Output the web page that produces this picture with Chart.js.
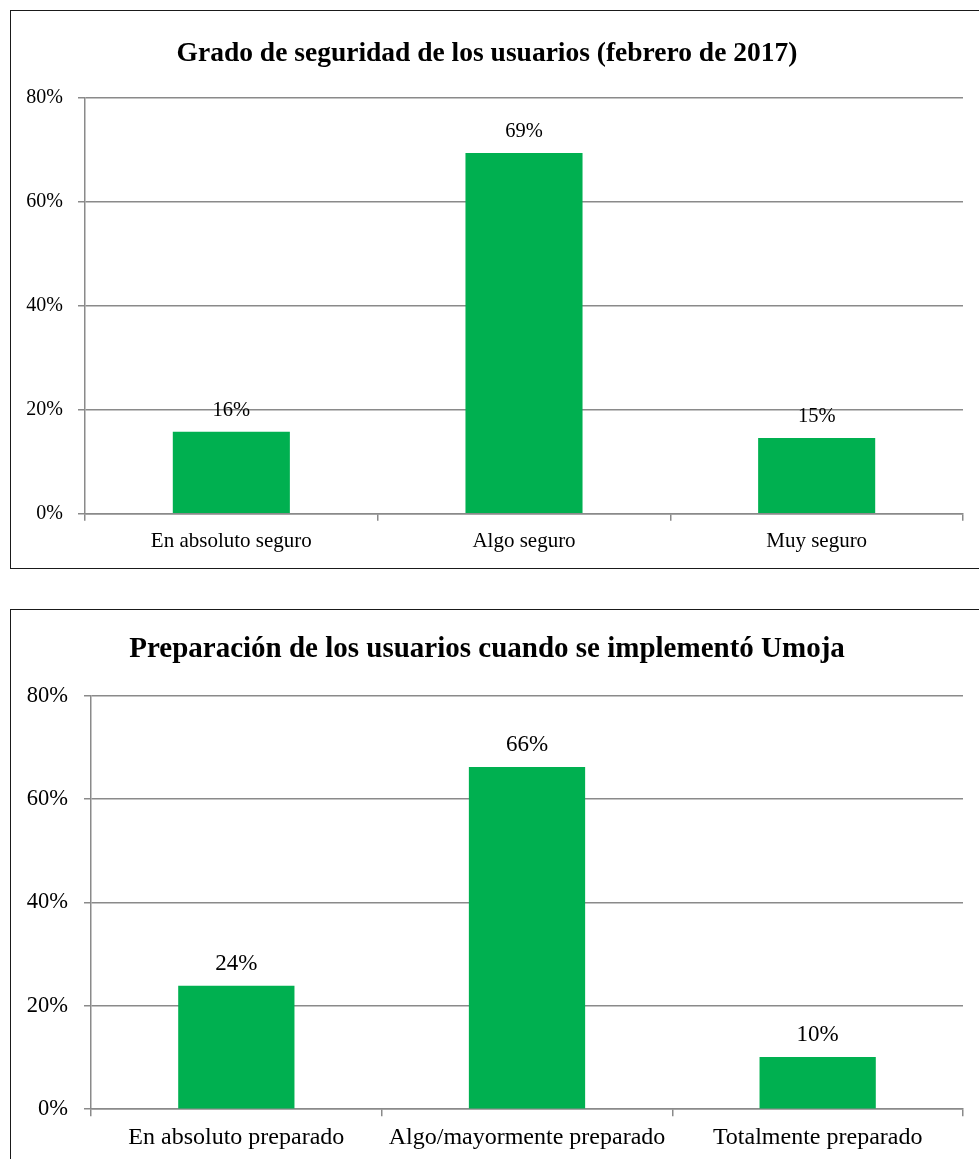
<!DOCTYPE html>
<html lang="es">
<head>
<meta charset="utf-8">
<script src="https://cdn.jsdelivr.net/npm/chart.js@4"></script>
<style>
  html, body { margin: 0; padding: 0; background: #fff; overflow: hidden; width: 979px; height: 1159px; }
  .marco { position: absolute; left: 10px; width: 990px; border: 1px solid #1a1a1a; border-right: none; }
  #marco1 { top: 10px; height: 557px; }
  #marco2 { top: 609px; height: 600px; }
  canvas { position: absolute; left: 0; top: 0; }
</style>
</head>
<body>
<div class="marco" id="marco1"><canvas id="grafica1" width="968" height="556"></canvas></div>
<div class="marco" id="marco2"><canvas id="grafica2" width="968" height="549"></canvas></div>
<script>
const categorias1 = ["En absoluto seguro", "Algo seguro", "Muy seguro"];
const valores1 = [15.8, 69.4, 14.6];
const titulo1 = "Grado de seguridad de los usuarios (febrero de 2017)";

const categorias2 = ["En absoluto preparado", "Algo/mayormente preparado", "Totalmente preparado"];
const valores2 = [23.9, 66.2, 10.1];
const titulo2 = "Preparación de los usuarios cuando se implementó Umoja";

const ticksY = [0, 20, 40, 60, 80];

const verde = "#00b050";
const gris = "#8a8a8a";
const fuente = "'Liberation Serif', 'Times New Roman', serif";

// etiquetas encima de cada barra
const etiquetasBarras = {
    id: "etiquetasBarras",
    afterDatasetsDraw(chart, args, opts) {
        const ctx = chart.ctx;
        const meta = chart.getDatasetMeta(0);
        ctx.save();
        ctx.fillStyle = "#000";
        ctx.font = opts.size + "px " + fuente;
        ctx.textAlign = "center";
        ctx.textBaseline = "alphabetic";
        meta.data.forEach((bar, i) => {
            const v = chart.data.datasets[0].data[i];
            ctx.fillText(Math.round(v) + "%", bar.x, bar.y - opts.gap);
        });
        ctx.restore();
    }
};

function dibujarGrafica(id, categorias, valores, titulo, cfg) {
    const ctx = document.getElementById(id).getContext("2d");
    return new Chart(ctx, {
        type: "bar",
        data: {
            labels: categorias,
            datasets: [{
                data: valores,
                backgroundColor: verde,
                borderWidth: 0,
                barPercentage: 0.4,
                categoryPercentage: 1.0
            }]
        },
        options: {
            responsive: false,
            animation: false,
            layout: { padding: { left: 0, right: 16, top: 0, bottom: cfg.padAbajo } },
            plugins: {
                legend: { display: false },
                tooltip: { enabled: false },
                title: {
                    display: true,
                    text: titulo,
                    color: "#000",
                    font: { family: fuente, size: cfg.titulo, weight: "bold" },
                    padding: { top: cfg.tituloArriba, bottom: cfg.tituloAbajo }
                },
                etiquetasBarras: { size: cfg.dato, gap: 16 }
            },
            scales: {
                x: {
                    grid: { display: true, drawOnChartArea: false, drawTicks: true, tickLength: 7, color: gris, lineWidth: 1.5, offset: true },
                    border: { display: true, color: gris, width: 1.5 },
                    ticks: { color: "#000", padding: cfg.padX, font: { family: fuente, size: cfg.cat } }
                },
                y: {
                    min: 0,
                    max: 80,
                    afterBuildTicks: (scale) => { scale.ticks = ticksY.map(v => ({ value: v })); },
                    afterFit: (scale) => { scale.width = cfg.anchoY; },
                    grid: { color: gris, lineWidth: 1.5, tickLength: 7 },
                    border: { display: true, color: gris, width: 1.5 },
                    ticks: {
                        color: "#000",
                        padding: cfg.padY,
                        font: { family: fuente, size: cfg.tick },
                        callback: (v) => v + "%"
                    }
                }
            }
        },
        plugins: [etiquetasBarras]
    });
}

dibujarGrafica("grafica1", categorias1, valores1, titulo1, {
    titulo: 27.5, tituloArriba: 26, tituloAbajo: 28,
    cat: 21, tick: 20, dato: 20.5,
    padX: 8, padY: 15, anchoY: 74, padAbajo: 5
});

dibujarGrafica("grafica2", categorias2, valores2, titulo2, {
    titulo: 29, tituloArriba: 22, tituloAbajo: 29,
    cat: 24, tick: 22.5, dato: 23,
    padX: 7, padY: 16, anchoY: 80, padAbajo: 0
});
</script>
</body>
</html>
